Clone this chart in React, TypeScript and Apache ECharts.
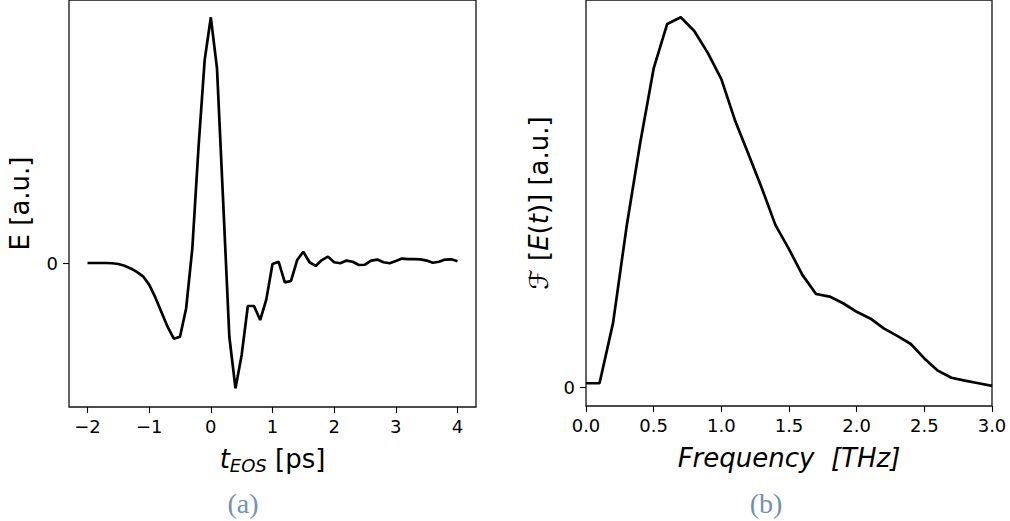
import React, { useEffect, useRef } from "react";
import * as echarts from "echarts";

// (a) time-domain field, t in ps (step 0.1)
const tValues: number[] = [
  -2.0, -1.9, -1.8, -1.7, -1.6, -1.5, -1.4, -1.3, -1.2, -1.1,
  -1.0, -0.9, -0.8, -0.7, -0.6, -0.5, -0.4, -0.3, -0.2, -0.1,
  0.0, 0.1, 0.2, 0.3, 0.4, 0.5, 0.6, 0.7, 0.8, 0.9,
  1.0, 1.1, 1.2, 1.3, 1.4, 1.5, 1.6, 1.7, 1.8, 1.9,
  2.0, 2.1, 2.2, 2.3, 2.4, 2.5, 2.6, 2.7, 2.8, 2.9,
  3.0, 3.1, 3.2, 3.3, 3.4, 3.5, 3.6, 3.7, 3.8, 3.9, 4.0,
];
const eValues: number[] = [
  0.0, 0.0, 0.0, 0.0, -0.001, -0.004, -0.011, -0.022, -0.036, -0.054,
  -0.088, -0.14, -0.2, -0.26, -0.308, -0.3, -0.184, 0.06, 0.47, 0.826,
  1.0, 0.792, 0.25, -0.3, -0.51, -0.374, -0.175, -0.175, -0.232, -0.148,
  -0.004, 0.005, -0.079, -0.073, 0.012, 0.046, 0.003, -0.012, 0.012, 0.026,
  0.003, -0.001, 0.01, 0.005, -0.008, -0.007, 0.01, 0.014, 0.003, -0.001,
  0.008, 0.018, 0.016, 0.016, 0.015, 0.01, 0.001, 0.005, 0.014, 0.015, 0.007,
];

// (b) spectrum, frequency in THz (step 0.1)
const fValues: number[] = [
  0.0, 0.1, 0.2, 0.3, 0.4, 0.5, 0.6, 0.7, 0.8, 0.9,
  1.0, 1.1, 1.2, 1.3, 1.4, 1.5, 1.6, 1.7, 1.8, 1.9,
  2.0, 2.1, 2.2, 2.3, 2.4, 2.5, 2.6, 2.7, 2.8, 2.9, 3.0,
];
const sValues: number[] = [
  0.012, 0.012, 0.175, 0.435, 0.66, 0.862, 0.982, 1.0, 0.963, 0.904,
  0.833, 0.723, 0.631, 0.538, 0.439, 0.374, 0.304, 0.253, 0.246, 0.228,
  0.205, 0.187, 0.16, 0.14, 0.118, 0.079, 0.046, 0.027, 0.019, 0.012, 0.005,
];

const leftTicks: number[] = [-2, -1, 0, 1, 2, 3, 4];
const rightTicks: number[] = [0, 0.5, 1, 1.5, 2, 2.5, 3];
const yTicks: number[] = [0];

const FONT = "DejaVu Sans";
const TICK_FS = 18;
const TITLE_FS = 26;

const fmtMinus = (v: number) => (v < 0 ? "\u2212" + Math.abs(v) : String(v));

export default function App() {
  const ref = useRef<HTMLDivElement>(null);
  useEffect(() => {
    if (!ref.current) return;
    const chart = echarts.init(ref.current, undefined, { renderer: "svg" });

    const tickStyle = { show: true, inside: false, length: 6, lineStyle: { color: "#000", width: 1.1 } };
    const labelBase = { color: "#000", fontFamily: FONT, fontSize: TICK_FS };
    const hiddenLine = { show: false, onZero: false };

    const option: any = {
      animation: false,
      backgroundColor: "#fff",
      grid: [
        { left: 69, top: 0, width: 407, height: 407, show: true, borderColor: "#111", borderWidth: 1.3, backgroundColor: "transparent" },
        { left: 586, top: 0, width: 406, height: 406, show: true, borderColor: "#111", borderWidth: 1.3, backgroundColor: "transparent" },
      ],
      xAxis: [
        {
          type: "value",
          gridIndex: 0,
          min: -2.3,
          max: 4.3,
          splitLine: { show: false },
          axisLine: hiddenLine,
          axisTick: { ...tickStyle, customValues: leftTicks },
          axisLabel: { ...labelBase, margin: 10, customValues: leftTicks, formatter: fmtMinus },
          name: "{t|t}{s|EOS}{r| [ps]}",
          nameLocation: "middle",
          nameGap: 36,
          nameTextStyle: {
            fontFamily: FONT,
            color: "#000",
            rich: {
              t: { fontFamily: FONT, fontSize: TITLE_FS, fontStyle: "italic", color: "#000", lineHeight: 31 },
              s: { fontFamily: FONT, fontSize: 18, fontStyle: "italic", color: "#000", lineHeight: 18, verticalAlign: "bottom" },
              r: { fontFamily: FONT, fontSize: TITLE_FS, color: "#000", lineHeight: 31 },
            },
          },
        },
        {
          type: "value",
          gridIndex: 1,
          min: 0,
          max: 3,
          splitLine: { show: false },
          axisLine: hiddenLine,
          axisTick: { ...tickStyle, customValues: rightTicks },
          axisLabel: { ...labelBase, margin: 10, customValues: rightTicks, formatter: (v: number) => v.toFixed(1) },
          name: "Frequency  [THz]",
          nameLocation: "middle",
          nameGap: 36,
          nameTextStyle: { fontFamily: FONT, fontSize: TITLE_FS, fontStyle: "italic", color: "#000", lineHeight: 31 },
        },
      ],
      yAxis: [
        {
          type: "value",
          gridIndex: 0,
          min: -0.586,
          max: 1.0704,
          splitLine: { show: false },
          axisLine: hiddenLine,
          axisTick: { ...tickStyle, customValues: yTicks },
          axisLabel: { ...labelBase, margin: 11, customValues: yTicks, formatter: fmtMinus },
          name: "E [a.u.]",
          nameLocation: "middle",
          nameGap: 36,
          nameTextStyle: { fontFamily: FONT, fontSize: TITLE_FS, color: "#000" },
        },
        {
          type: "value",
          gridIndex: 1,
          min: -0.0494,
          max: 1.0467,
          splitLine: { show: false },
          axisLine: hiddenLine,
          axisTick: { ...tickStyle, customValues: yTicks },
          axisLabel: { ...labelBase, margin: 11, customValues: yTicks, formatter: fmtMinus },
          name: "{n|\u2131 [}{i|E}{n|(}{i|t}{n|)] [a.u.]}",
          nameLocation: "middle",
          nameGap: 34,
          nameTextStyle: {
            fontFamily: FONT,
            color: "#000",
            rich: {
              n: { fontFamily: FONT, fontSize: TITLE_FS, color: "#000" },
              i: { fontFamily: FONT, fontSize: TITLE_FS, fontStyle: "italic", color: "#000" },
            },
          },
        },
      ],
      series: [
        {
          type: "line",
          xAxisIndex: 0,
          yAxisIndex: 0,
          data: tValues.map((t, i) => [t, eValues[i]]),
          showSymbol: false,
          symbol: "none",
          lineStyle: { color: "#000", width: 2.7 },
          silent: true,
        },
        {
          type: "line",
          xAxisIndex: 1,
          yAxisIndex: 1,
          data: fValues.map((f, i) => [f, sValues[i]]),
          showSymbol: false,
          symbol: "none",
          lineStyle: { color: "#000", width: 2.7 },
          silent: true,
        },
      ],
      graphic: [
        {
          type: "text",
          x: 243,
          y: 503,
          style: { text: "(a)", font: "28px 'Liberation Serif'", fill: "#7291b1", align: "center", verticalAlign: "middle" },
        },
        {
          type: "text",
          x: 766,
          y: 503,
          style: { text: "(b)", font: "28px 'Liberation Serif'", fill: "#7291b1", align: "center", verticalAlign: "middle" },
        },
      ],
    };
    chart.setOption(option);
    return () => chart.dispose();
  }, []);

  return (
    <div
      ref={ref}
      style={{ position: "absolute", left: 0, top: 0, width: 1010, height: 521, background: "#fff" }}
    />
  );
}
